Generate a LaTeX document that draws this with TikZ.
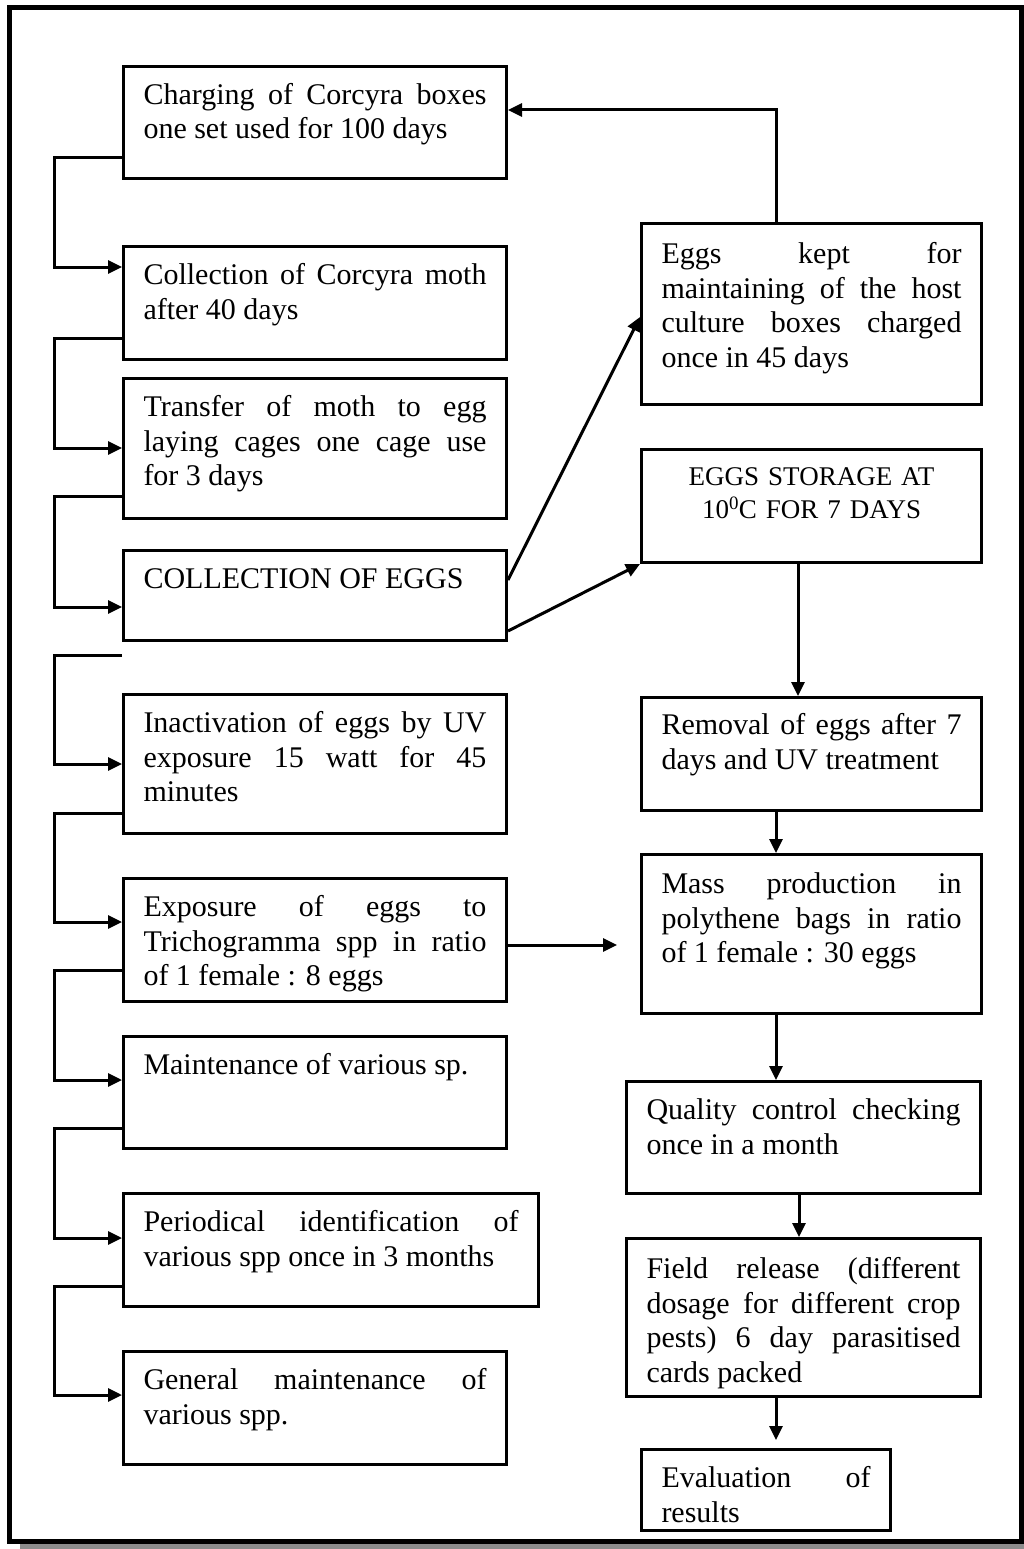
\documentclass[tikz,border=0pt]{standalone}
\usepackage{fontspec}
\setmainfont{Liberation Serif}
\usetikzlibrary{arrows.meta}
\tikzset{
  stage/.style = {draw, line width=3pt, anchor=north west, inner xsep=20pt, inner ysep=0pt,
                  align=justify, font=\fontsize{30}{34.5}\selectfont, text height=38pt},
  link/.style  = {line width=3pt, -{Triangle[length=14pt,width=13pt]}},
  frame/.style = {line width=5pt},
}

\begin{document}
\begin{tikzpicture}[x=1pt,y=-1pt]
  \useasboundingbox (0,0) rectangle (1024,1549);
  % outer frame with its shadow
  \fill[gray!90] (20,1544) rectangle (1024,1549);
  \draw[frame] (9,8) rectangle (1021.5,1541.5);

  % left column
  \node[stage, text width=343pt, text depth=74pt] (charge) at (122,65)
    {Charging of Corcyra boxes\linebreak one set used for 100 days};
  \node[stage, text width=343pt, text depth=75pt] (moth) at (122,245)
    {Collection of Corcyra moth\linebreak after 40 days};
  \node[stage, text width=343pt, text depth=102pt] (transfer) at (122,377)
    {Transfer of moth to egg\linebreak laying cages one cage use\linebreak for 3 days};
  \node[stage, text width=343pt, text depth=52pt] (eggs) at (122,549)
    {COLLECTION OF EGGS};
  \node[stage, text width=343pt, text depth=101pt] (uv) at (122,693)
    {Inactivation of eggs by UV\linebreak exposure 15 watt for 45\linebreak minutes};
  \node[stage, text width=343pt, text depth=85pt] (expo) at (122,877)
    {Exposure of eggs to\linebreak Trichogramma spp in ratio\linebreak of 1 female : 8 eggs};
  \node[stage, text width=343pt, text depth=74pt] (maint) at (122,1035)
    {Maintenance of various sp.};
  \node[stage, text width=375pt, text depth=75pt] (period) at (122,1192)
    {Periodical identification of\linebreak various spp once in 3 months};
  \node[stage, text width=343pt, text depth=75pt] (general) at (122,1350)
    {General maintenance of\linebreak various spp.};

  % right column
  \node[stage, text width=300pt, text height=40pt, text depth=141pt] (host) at (640,222)
    {Eggs kept for\linebreak maintaining of the host\linebreak culture boxes charged\linebreak once in 45 days};
  \node[stage, text width=300pt, align=center, font=\fontsize{27}{33}\selectfont,
        text height=36pt, text depth=77pt] (store) at (640,448)
    {EGGS STORAGE AT\\ 10\textsuperscript{0}C FOR 7 DAYS};
  \node[stage, text width=300pt, text height=37pt, text depth=76pt] (removal) at (640,696)
    {Removal of eggs after 7\linebreak days and UV treatment};
  \node[stage, text width=300pt, text height=39pt, text depth=120pt] (mass) at (640,853)
    {Mass production in\linebreak polythene bags in ratio\linebreak of 1 female : 30 eggs};
  \node[stage, text width=314pt, text depth=74pt] (quality) at (625,1080)
    {Quality control checking\linebreak once in a month};
  \node[stage, text width=314pt, text height=40pt, text depth=118pt] (field) at (625,1237)
    {Field release (different\linebreak dosage for different crop\linebreak pests) 6 day parasitised\linebreak cards packed};
  \node[stage, text width=209pt, text depth=43pt] (eval) at (640,1448)
    {Evaluation of\linebreak results};

  % links down the left side
  \draw[link] ([yshift=22pt]charge.south west) -- ++(-68,0) |- ([yshift=-22pt]moth.north west);
  \draw[link] ([yshift=23pt]moth.south west) -- ++(-68,0) |- ([yshift=-71pt]transfer.north west);
  \draw[link] ([yshift=24pt]transfer.south west) -- ++(-68,0) |- ([yshift=-58pt]eggs.north west);
  \draw[link] ([yshift=-13pt]eggs.south west) -- ++(-68,0) |- ([yshift=-71pt]uv.north west);
  \draw[link] ([yshift=22pt]uv.south west) -- ++(-68,0) |- ([yshift=-45pt]expo.north west);
  \draw[link] ([yshift=33pt]expo.south west) -- ++(-68,0) |- ([yshift=-45pt]maint.north west);
  \draw[link] ([yshift=22pt]maint.south west) -- ++(-68,0) |- ([yshift=-46pt]period.north west);
  \draw[link] ([yshift=22pt]period.south west) -- ++(-68,0) |- ([yshift=-45pt]general.north west);

  % links to and down the right side
  \draw[link] ([xshift=136pt]host.north west) |- ([yshift=-45pt]charge.north east);
  \draw[link] ([yshift=-31pt]eggs.north east) -- ([yshift=-95pt]host.north west);
  \draw[link] ([yshift=11pt]eggs.south east) -- (store.south west);
  \draw[link] ([xshift=158pt]store.south west) -- ([xshift=158pt]removal.north west);
  \draw[link] ([xshift=136pt]removal.south west) -- ([xshift=136pt]mass.north west);
  \draw[link, shorten >=23pt] ([yshift=-68pt]expo.north east) -- ([yshift=-92pt]mass.north west);
  \draw[link] ([xshift=136pt]mass.south west) -- ([xshift=151pt]quality.north west);
  \draw[link] ([xshift=174pt]quality.south west) -- ([xshift=174pt]field.north west);
  \draw[link, shorten >=8pt] ([xshift=151pt]field.south west) -- ([xshift=136pt]eval.north west);
\end{tikzpicture}
\end{document}
